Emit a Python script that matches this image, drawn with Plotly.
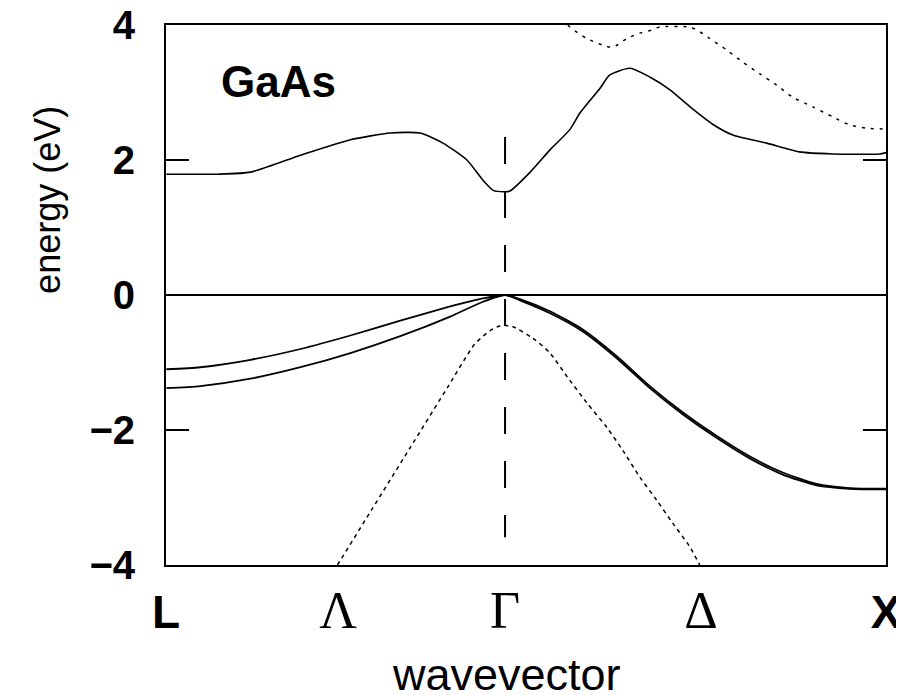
import plotly.graph_objects as go

# k-path coordinate: L = -0.89, Gamma = 0, X = 1
tick_vals = [-0.89, -0.438, 0.0, 0.514, 1.0]
tick_text = ["<b>L</b>",
             "<span style='font-family:Liberation Serif, Times New Roman, serif;font-weight:normal;font-size:52px'>Λ</span>",
             "<span style='font-family:Liberation Serif, Times New Roman, serif;font-weight:normal;font-size:52px'>Γ</span>",
             "<span style='font-family:Liberation Serif, Times New Roman, serif;font-weight:normal;font-size:52px'>Δ</span>",
             "<b>X</b>"]

# lowest conduction band (solid)
cb1_k = [-0.889, -0.755, -0.668, -0.537, -0.406, -0.301, -0.223, -0.163, -0.100, -0.058, -0.031, 0.0,
         0.013, 0.066, 0.118, 0.170, 0.197, 0.249, 0.275, 0.328, 0.380, 0.433, 0.485, 0.545, 0.598,
         0.687, 0.773, 0.860, 0.983, 1.0]
cb1_e = [1.79, 1.79, 1.82, 2.07, 2.30, 2.40, 2.40, 2.25, 2.00, 1.70, 1.55, 1.53,
         1.54, 1.82, 2.15, 2.45, 2.70, 3.06, 3.26, 3.36, 3.23, 3.04, 2.79, 2.53, 2.37,
         2.25, 2.12, 2.09, 2.09, 2.11]

# second conduction band (dotted)
cb2_k = [0.150, 0.165, 0.215, 0.257, 0.283, 0.320, 0.354, 0.388, 0.406, 0.485, 0.511, 0.537,
         0.582, 0.624, 0.668, 0.713, 0.755, 0.807, 0.860, 0.904, 0.949, 1.0]
cb2_e = [4.25, 4.00, 3.80, 3.70, 3.67, 3.80, 3.88, 3.93, 3.97, 3.97, 3.90, 3.80,
         3.63, 3.45, 3.28, 3.11, 2.93, 2.79, 2.64, 2.52, 2.47, 2.46]

# heavy-hole / light-hole valence bands (solid)
vb1_k = [-0.889, -0.800, -0.668, -0.537, -0.406, -0.275, -0.144, -0.058, 0.0,
         0.039, 0.118, 0.204, 0.294, 0.380, 0.467, 0.556, 0.642, 0.729, 0.818, 0.904, 1.0]
vb1_e = [-1.10, -1.07, -0.96, -0.80, -0.60, -0.38, -0.17, -0.05, 0.0,
         -0.06, -0.24, -0.51, -0.91, -1.35, -1.74, -2.09, -2.39, -2.63, -2.80, -2.86, -2.87]
vb2_k = [-0.889, -0.800, -0.668, -0.537, -0.406, -0.275, -0.144, -0.058, 0.0,
         0.039, 0.118, 0.204, 0.294, 0.380, 0.467, 0.556, 0.642, 0.729, 0.818, 0.904, 1.0]
vb2_e = [-1.38, -1.35, -1.24, -1.07, -0.86, -0.61, -0.32, -0.10, 0.0,
         -0.08, -0.27, -0.54, -0.94, -1.38, -1.77, -2.12, -2.42, -2.66, -2.82, -2.87, -2.88]

# split-off band (dotted)
so_k = [-0.440, -0.350, -0.250, -0.150, -0.080, -0.040, -0.015, 0.0,
        0.021, 0.073, 0.118, 0.163, 0.215, 0.267, 0.309, 0.354, 0.398, 0.440, 0.485, 0.511]
so_e = [-4.00, -3.18, -2.27, -1.36, -0.73, -0.53, -0.46, -0.45,
        -0.47, -0.64, -0.86, -1.21, -1.60, -1.96, -2.30, -2.70, -3.04, -3.38, -3.73, -4.00]

# vertical marker at Gamma
gamma_k = [0.0, 0.0]
gamma_e = [2.34, -3.59]

y_ticks = [-4, -2, 0, 2, 4]

fig = go.Figure()
sm = 0.6
fig.add_trace(go.Scatter(x=gamma_k, y=gamma_e, mode="lines",
                         line=dict(color="black", width=2, dash="27px,27px")))
fig.add_trace(go.Scatter(x=cb1_k, y=cb1_e, mode="lines",
                         line=dict(color="black", width=1.6, shape="spline", smoothing=sm)))
fig.add_trace(go.Scatter(x=cb2_k, y=cb2_e, mode="lines",
                         line=dict(color="black", width=1.5, dash="3px,6px", shape="spline", smoothing=sm)))
fig.add_trace(go.Scatter(x=vb1_k, y=vb1_e, mode="lines",
                         line=dict(color="black", width=1.8, shape="spline", smoothing=sm)))
fig.add_trace(go.Scatter(x=vb2_k, y=vb2_e, mode="lines",
                         line=dict(color="black", width=1.8, shape="spline", smoothing=sm)))
fig.add_trace(go.Scatter(x=so_k, y=so_e, mode="lines",
                         line=dict(color="black", width=1.5, dash="4px,4px", shape="spline", smoothing=sm)))

fig.update_layout(
    width=896, height=687,
    margin=dict(l=158, r=18, t=17, b=130, autoexpand=False),
    paper_bgcolor="white", plot_bgcolor="white",
    showlegend=False,
    font=dict(family="Arial, Liberation Sans, Helvetica, sans-serif", color="black"),
)
fig.update_xaxes(range=[-0.89, 1.0], showgrid=False, zeroline=False, automargin=False,
                 showline=True, linecolor="black", linewidth=2, mirror=True,
                 ticks="", tickmode="array", tickvals=tick_vals, ticktext=tick_text,
                 tickfont=dict(size=46, color="black"), ticklabelstandoff=6,
                 ticklabeloverflow="allow")
fig.update_yaxes(range=[-4, 4], showgrid=False, automargin=False,
                 zeroline=True, zerolinecolor="black", zerolinewidth=1.5,
                 showline=True, linecolor="black", linewidth=2, mirror="ticks",
                 ticks="inside", ticklen=23, tickwidth=2, tickcolor="black",
                 tickmode="array", tickvals=y_ticks,
                 tickfont=dict(size=40, color="black", weight="bold"), ticklabelstandoff=21,
                 ticklabeloverflow="allow")

fig.add_annotation(text="<b>GaAs</b>", x=-0.752, y=3.17, xref="x", yref="y",
                   xanchor="left", yanchor="middle", showarrow=False,
                   font=dict(size=44, color="black"))
fig.add_annotation(text="energy (eV)", x=-0.164, y=0.676, xref="paper", yref="paper",
                   xanchor="center", yanchor="middle", textangle=-90, showarrow=False,
                   font=dict(size=36, color="black"))
fig.add_annotation(text="wavevector", x=0.473, y=-0.203, xref="paper", yref="paper",
                   xanchor="center", yanchor="middle", showarrow=False,
                   font=dict(size=45, color="black"))

fig.write_html("out.html")
